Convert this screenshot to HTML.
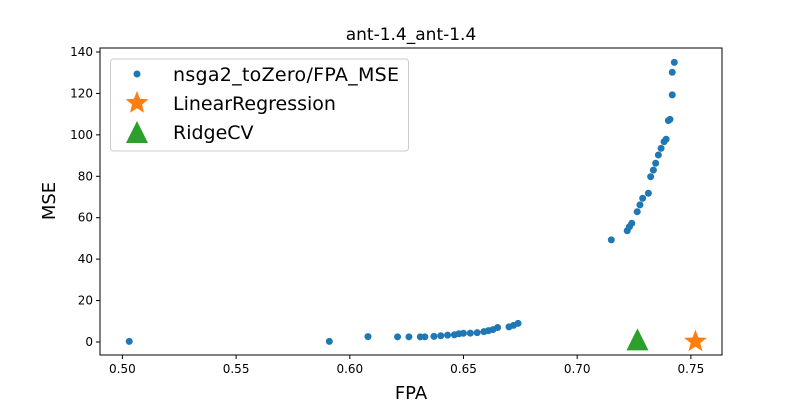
<!DOCTYPE html>
<html><head><meta charset="utf-8"><style>
body{margin:0;background:#fff;}
svg text{font-family:"DejaVu Sans","Liberation Sans",sans-serif;}
</style></head><body>
<svg width="800" height="400">
<g id="plot"></g>
</svg>
<script>
const xTicks=[0.50,0.55,0.60,0.65,0.70,0.75];
const yTicks=[0,20,40,60,80,100,120,140];
const fpa=[0.503,0.591,0.608,0.621,0.626,0.631,0.633,0.637,0.640,0.643,0.646,0.648,0.650,0.653,0.656,0.659,0.661,0.663,0.665,0.670,0.672,0.674,
0.715,0.722,0.723,0.724,0.7264,0.7276,0.7288,0.7313,0.7323,0.7335,0.7345,0.7357,0.7369,0.7382,0.7391,0.7401,0.7408,0.7418,0.7418,0.7427];
const mse=[0.3,0.3,2.6,2.5,2.5,2.5,2.5,2.7,3.0,3.3,3.5,4.0,4.2,4.3,4.5,5.0,5.5,6.0,7.0,7.3,8.0,9.0,
49.3,53.7,55.7,57.3,62.9,66.2,69.4,71.8,79.8,83,86.3,90.3,93.5,96.7,97.9,106.9,107.5,119.3,130.2,135];
const linReg=[0.752,0.2];
const ridge=[0.7265,0.8];
const L=100,R=722,T=48,B=355;
const xs=v=>122.4+(v-0.5)*2274;
const ys=v=>342-v*2.0714;
const NS="http://www.w3.org/2000/svg";
const g=document.getElementById('plot');
function mk(t,a,p){const e=document.createElementNS(NS,t);for(const k in a)e.setAttribute(k,a[k]);(p||g).appendChild(e);return e;}
fpa.forEach((v,i)=>{const c=mk('circle',{cx:xs(v),cy:ys(mse[i]),r:3.5,fill:'#1f77b4'});

});
function star(cx,cy,ro,ri,attrs){let p=[];for(let i=0;i<10;i++){const r=i%2?ri:ro;const a=-Math.PI/2+i*Math.PI/5;p.push((cx+r*Math.cos(a)).toFixed(1)+','+(cy+r*Math.sin(a)).toFixed(1));}return mk('polygon',Object.assign({points:p.join(' ')},attrs));}
const s=star(xs(linReg[0]),ys(linReg[1]),12,5,{fill:'#ff7f0e'});


function tri(cx,cy,h,w,attrs){return mk('polygon',Object.assign({points:`${cx},${cy-h/2-2} ${cx-w/2},${cy+h/2} ${cx+w/2},${cy+h/2}`},attrs));}
const t=tri(xs(ridge[0]),ys(ridge[1]),20,22,{fill:'#2ca02c'});


const fr=mk('rect',{x:L,y:T,width:R-L,height:B-T,fill:'none',stroke:'#000','stroke-width':1});


xTicks.forEach(v=>{const x=xs(v);mk('line',{x1:x,x2:x,y1:B,y2:B+4,stroke:'#000'});
const tx=mk('text',{x:x,y:B+18,'text-anchor':'middle','font-size':12});tx.textContent=v.toFixed(2);

});
yTicks.forEach(v=>{const y=ys(v);mk('line',{x1:L-4,x2:L,y1:y,y2:y,stroke:'#000'});
const tx=mk('text',{x:L-7,y:y+4,'text-anchor':'end','font-size':12});tx.textContent=v;

});
</script>
<svg width="800" height="400" style="position:absolute;left:0;top:0">
<text x="411" y="40" text-anchor="middle" font-size="17">ant-1.4_ant-1.4</text>
<text x="411" y="399" text-anchor="middle" font-size="18">FPA</text>
<text x="55" y="201" text-anchor="middle" font-size="18" transform="rotate(-90 55 201)">MSE</text>
<g>
<rect x="110.5" y="59" width="298" height="92" rx="3" fill="#fff" fill-opacity="0.8" stroke="#ccc"/>
<circle cx="137" cy="74" r="3.5" fill="#1f77b4"/>
<text x="173" y="81" font-size="19" textLength="226">nsga2_toZero/FPA_MSE</text>
<polygon fill="#ff7f0e" points="137.0,91.0 140.1,98.8 148.4,99.3 142.0,104.5 144.0,112.7 137.0,108.2 130.0,112.7 132.0,104.5 125.6,99.3 133.9,98.8"/>
<text x="173" y="110" font-size="19">LinearRegression</text>
<polygon fill="#2ca02c" points="137,121 126,143 148,143"/>
<text x="173" y="139" font-size="19">RidgeCV</text>
</g>
</svg>
</body></html>
